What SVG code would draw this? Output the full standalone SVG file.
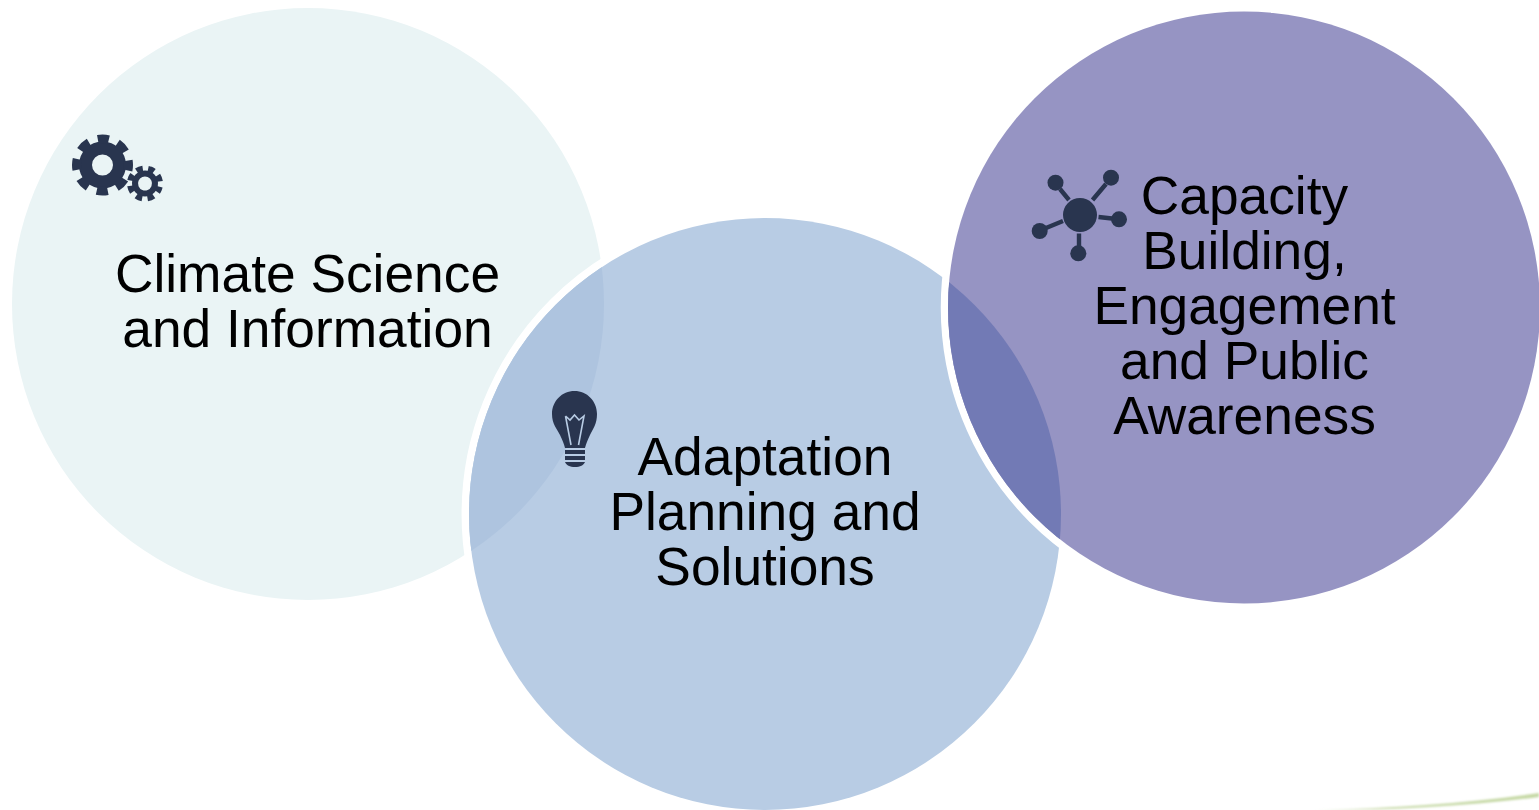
<svg xmlns="http://www.w3.org/2000/svg" width="1539" height="810" viewBox="0 0 1539 810">
<style>
text{font-family:"Liberation Sans",Arial,sans-serif;font-size:53.3px;fill:#000;text-anchor:middle}
.ring{fill:none;stroke:#fff;stroke-width:7.5}
.ink{fill:#29354f}
.gearline{fill:none;stroke:#29354f;stroke-linejoin:round}
.net{fill:none;stroke:#29354f;stroke-width:4.4}
.fil{fill:none;stroke:#b8cce4;stroke-width:1.6;stroke-linejoin:miter}
</style>
<defs>
<clipPath id="c2"><circle cx="765" cy="514" r="296"/></clipPath>
<clipPath id="c3"><circle cx="1244" cy="307.5" r="296"/></clipPath>
<linearGradient id="gl" x1="1315" y1="0" x2="1539" y2="0" gradientUnits="userSpaceOnUse">
<stop offset="0" stop-color="#c9dbab" stop-opacity="0"/><stop offset="0.3" stop-color="#c9dbab"/><stop offset="1" stop-color="#c5d8a4"/>
</linearGradient>
<filter id="soft" x="-5%" y="-60%" width="110%" height="220%"><feGaussianBlur stdDeviation="0.9"/></filter>
</defs>
<rect width="1539" height="810" fill="#fff"/>
<path id="accent-line" d="M1315 810C1395 808 1470 803 1539 793V797C1470 806 1395 810 1315 811Z" fill="url(#gl)" filter="url(#soft)"/>
<g id="node-climate">
<circle cx="308" cy="304" r="296" fill="#eaf4f5"/>
<g id="icon-gears">
<circle class="gearline" cx="102.500" cy="165" r="17" stroke-width="13"/>
<circle class="gearline" cx="102.500" cy="165" r="26" stroke-width="9" stroke-dasharray="11.200 9.220" stroke-dashoffset="5.600"/>
<g transform="rotate(22.500 145 183.500)">
<circle class="gearline" cx="145" cy="183.500" r="10" stroke-width="6"/>
<circle class="gearline" cx="145" cy="183.500" r="15" stroke-width="6" stroke-dasharray="6.500 5.280" stroke-dashoffset="3.250"/>
</g>
</g>
<text x="307.5" y="292">Climate Science</text>
<text x="307.5" y="347">and Information</text>
</g>
<g id="node-adaptation">
<circle class="ring" cx="765" cy="514" r="299.7"/>
<circle cx="765" cy="514" r="296" fill="#b8cce4"/>
<circle cx="308" cy="304" r="296" fill="#aec4df" clip-path="url(#c2)"/>
<g id="icon-bulb">
<path class="ink" d="M574.5 391C562 391 552 401 552 414C552 424 557 429 560 435C562 439 564 444 565 448H585C586 444 588 439 590 435C593 429 597 424 597 414C597 401 587 391 574.5 391Z"/>
<path class="ink" d="M565 450H585V454H565ZM565 456H585V460H565ZM565 462H585C584 465 580 467 575 467C570 467 566 465 565 462Z"/>
<path class="fil" d="M565.5 416L570 420L574.5 415L579 420L584 416L578.5 445M565.5 416L571 445"/>
</g>
<text x="765" y="475">Adaptation</text>
<text x="765" y="530">Planning and</text>
<text x="765" y="585">Solutions</text>
</g>
<g id="node-capacity">
<circle class="ring" cx="1244" cy="307.5" r="299.5"/>
<circle cx="1244" cy="307.5" r="296" fill="#9694c3"/>
<circle cx="765" cy="514" r="296" fill="#727ab5" clip-path="url(#c3)"/>
<g id="icon-network">
<circle class="ink" cx="1080" cy="215" r="17"/>
<circle class="ink" cx="1055.5" cy="182.7" r="8"/>
<circle class="ink" cx="1111" cy="177.7" r="8"/>
<circle class="ink" cx="1119" cy="219.3" r="8"/>
<circle class="ink" cx="1039.7" cy="231" r="8"/>
<circle class="ink" cx="1078.3" cy="253.3" r="8"/>
<path class="net" d="M1060 189L1069 200M1106 184L1092.500 200M1112 218.500L1098.500 217M1046 228L1063 221M1079 233.500V246"/>
</g>
<text x="1244.5" y="214">Capacity</text>
<text x="1244.5" y="269">Building,</text>
<text x="1244.5" y="324">Engagement</text>
<text x="1244.5" y="379">and Public</text>
<text x="1244.5" y="434">Awareness</text>
</g>
</svg>
